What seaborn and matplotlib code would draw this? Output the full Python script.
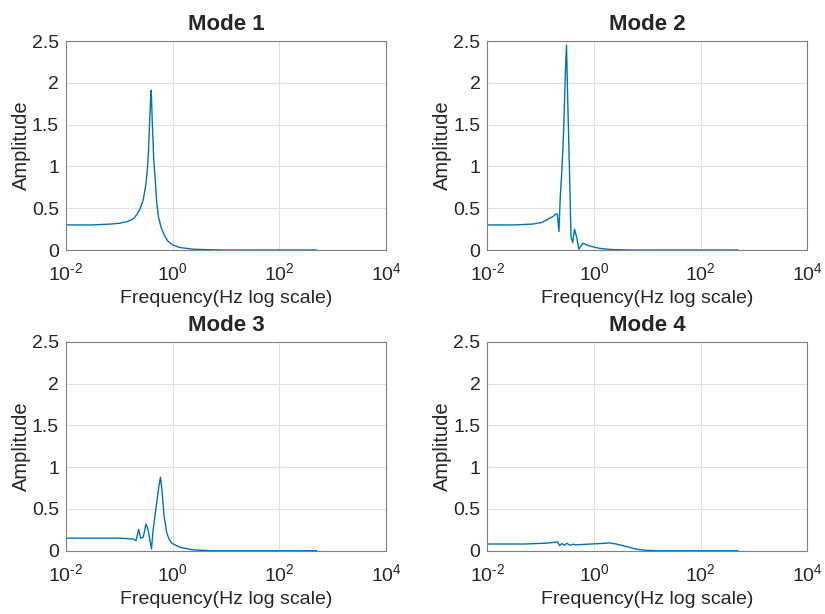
import seaborn as sns
import matplotlib.pyplot as plt
import matplotlib.ticker as mticker
import pandas as pd

# Datos (frecuencia en Hz, amplitud)
freq_1 = [0.01, 0.03, 0.067, 0.10, 0.14, 0.18, 0.21, 0.24, 0.28, 0.31, 0.335, 0.35, 0.365, 0.38, 0.393,
          0.40, 0.41, 0.42, 0.44, 0.47, 0.50, 0.54, 0.60, 0.67, 0.80, 1.0, 1.37, 2.4, 5, 10, 500]
amp_1 = [0.30, 0.30, 0.31, 0.32, 0.34, 0.37, 0.42, 0.48, 0.60, 0.76, 0.96, 1.15, 1.44, 1.72, 1.91,
         1.82, 1.62, 1.44, 1.10, 0.84, 0.58, 0.40, 0.28, 0.20, 0.11, 0.06, 0.03, 0.01, 0.003, 0.0, 0.0]

freq_2 = [0.01, 0.03, 0.07, 0.105, 0.147, 0.17, 0.19, 0.205, 0.22, 0.233, 0.25, 0.27, 0.29, 0.305, 0.32,
          0.35, 0.37, 0.40, 0.43, 0.47, 0.52, 0.62, 0.81, 1.26, 2.2, 5, 500]
amp_2 = [0.30, 0.30, 0.31, 0.33, 0.38, 0.40, 0.43, 0.43, 0.22, 0.64, 0.96, 1.44, 2.12, 2.45, 1.84,
         0.84, 0.16, 0.09, 0.25, 0.16, 0.01, 0.08, 0.05, 0.02, 0.005, 0.0, 0.0]

freq_3 = [0.01, 0.1, 0.184, 0.205, 0.23, 0.25, 0.28, 0.316, 0.345, 0.40, 0.43, 0.50, 0.55, 0.59, 0.63,
          0.69, 0.77, 0.85, 0.96, 1.37, 2.4, 5, 500]
amp_3 = [0.15, 0.15, 0.14, 0.12, 0.256, 0.15, 0.16, 0.32, 0.25, 0.02, 0.25, 0.57, 0.77, 0.88, 0.72,
         0.41, 0.22, 0.14, 0.09, 0.04, 0.01, 0.0, 0.0]

freq_4 = [0.01, 0.05, 0.126, 0.21, 0.225, 0.25, 0.28, 0.31, 0.35, 0.40, 0.46, 0.71, 1.26, 1.94, 2.6,
          4.0, 6.0, 9.3, 15, 500]
amp_4 = [0.08, 0.08, 0.09, 0.105, 0.06, 0.085, 0.065, 0.09, 0.065, 0.077, 0.07, 0.077, 0.085, 0.093, 0.08,
         0.05, 0.02, 0.004, 0.0, 0.0]

modes = ['Mode 1', 'Mode 2', 'Mode 3', 'Mode 4']
freqs = [freq_1, freq_2, freq_3, freq_4]
amps = [amp_1, amp_2, amp_3, amp_4]
xtick_labels = ['$10^{\\text{-}2}$', '$10^{0}$', '$10^{2}$', '$10^{4}$']

sns.set_style('white')
plt.rcParams['font.family'] = ['Liberation Sans', 'DejaVu Sans']
plt.rcParams['mathtext.fontset'] = 'custom'
plt.rcParams['mathtext.rm'] = 'Liberation Sans'
plt.rcParams['mathtext.it'] = 'Liberation Sans'

fig = plt.figure(figsize=(8.25, 6.14), dpi=100)
posiciones = [[0.080, 0.5928, 0.388, 0.3404], [0.5907, 0.5928, 0.388, 0.3404],
              [0.080, 0.1031, 0.388, 0.3400], [0.5907, 0.1031, 0.388, 0.3400]]

for i in range(4):
    ax = fig.add_axes(posiciones[i])
    df = pd.DataFrame({'f': freqs[i], 'a': amps[i]})
    sns.lineplot(data=df, x='f', y='a', ax=ax, color='#0072BD', linewidth=1.0)
    ax.set_xscale('log')
    ax.set_xlim(1e-2, 1e4)
    ax.set_ylim(0, 2.5)
    ax.set_xticks([1e-2, 1e0, 1e2, 1e4])
    ax.set_xticklabels(xtick_labels)
    ax.xaxis.set_minor_locator(mticker.NullLocator())
    ax.set_yticks([0, 0.5, 1, 1.5, 2, 2.5])
    ax.set_yticklabels(['0', '0.5', '1', '1.5', '2', '2.5'])
    ax.grid(True, color='#e0e0e0', linewidth=0.8)
    for s in ax.spines.values():
        s.set_color('#808080')
        s.set_linewidth(0.8)
    ax.tick_params(direction='in', length=3, color='#808080', labelsize=14, labelcolor='#262626')
    ax.tick_params(axis='x', pad=9)
    ax.tick_params(axis='y', pad=5)
    ax.set_title(modes[i], fontsize=16, fontweight='bold', pad=8)
    ax.set_xlabel('Frequency(Hz log scale)', fontsize=14, color='#262626', labelpad=4)
    ax.set_ylabel('Amplitude', fontsize=14.5, color='#262626', labelpad=1)

plt.savefig('out.png', dpi=100)
